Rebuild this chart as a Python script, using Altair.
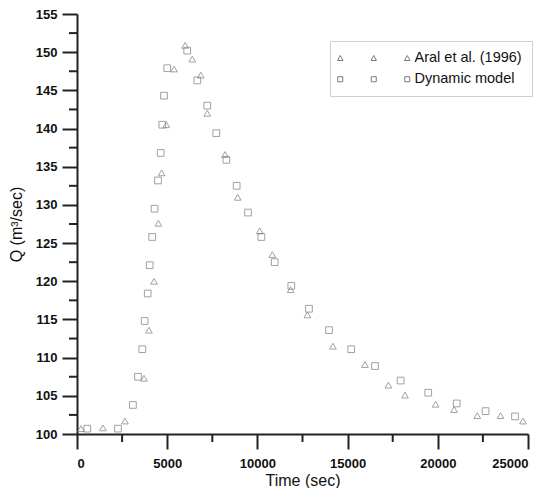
import altair as alt
import pandas as pd

# Aral et al. (1996) - triangles
aral_t = [220, 1440, 2660, 3715, 3990, 4270, 4510, 4690, 4950, 5380, 5990, 6390, 6860,
          7220, 8200, 8910, 10130, 10830, 11840, 12770, 14190, 15960, 17260, 18180,
          19880, 20900, 22190, 23480, 24720]
aral_q = [100.7, 100.8, 101.7, 107.3, 113.6, 120.0, 127.6, 134.2, 140.5, 147.8, 150.9, 149.1, 147.0,
          142.0, 136.6, 131.0, 126.6, 123.5, 118.9, 115.6, 111.5, 109.1, 106.4, 105.1,
          103.9, 103.2, 102.4, 102.4, 101.7]

# Dynamic model - squares
dyn_t = [570, 2270, 3100, 3380, 3620, 3750, 3920, 4030, 4170, 4300, 4490, 4640, 4730, 4820,
         5000, 6110, 6670, 7220, 7720, 8280, 8850, 9480, 10220, 10960, 11880, 12860,
         13970, 15200, 16520, 17940, 19470, 21050, 22650, 24280]
dyn_q = [100.7, 100.7, 103.8, 107.5, 111.1, 114.8, 118.4, 122.1, 125.8, 129.5, 133.2, 136.8, 140.5, 144.3,
         147.9, 150.2, 146.3, 143.0, 139.4, 135.9, 132.5, 129.0, 125.8, 122.5, 119.4, 116.4,
         113.6, 111.1, 108.9, 107.0, 105.4, 104.0, 103.0, 102.3]

series_names = ["Aral et al. (1996)", "Dynamic model"]
x_major = [0, 5000, 10000, 15000, 20000, 25000]
x_minor = [2500, 7500, 12500, 17500, 22500]
y_major = [100, 105, 110, 115, 120, 125, 130, 135, 140, 145, 150, 155]
y_minor = [102.5, 107.5, 112.5, 117.5, 122.5, 127.5, 132.5, 137.5, 142.5, 147.5, 152.5]

df = pd.concat([
    pd.DataFrame({"t": aral_t, "q": aral_q, "series": series_names[0]}),
    pd.DataFrame({"t": dyn_t, "q": dyn_q, "series": series_names[1]}),
])

FONT = "Liberation Sans"
AX = "#222222"
GRAY = "#7a7a7a"
H = 420

def tri(cx):
    return f"M{cx-0.55},0.45L{cx+0.55},0.45L{cx},-0.55Z"

def sq(cx):
    return f"M{cx-0.5},-0.5H{cx+0.5}V0.5H{cx-0.5}Z"

legend_shapes = [
    tri(-13.4) + tri(-6.7) + tri(0),
    sq(-13.4) + sq(-6.7) + sq(0),
]

x_def = alt.X("t:Q", title="Time (sec)",
              scale=alt.Scale(domain=[0, 25000], nice=False, zero=False),
              axis=alt.Axis(values=x_major, format="d", tickSize=15, tickWidth=2, tickColor=AX,
                            labelOverlap=False, orient="bottom", labelPadding=8, titlePadding=2))
y_def = alt.Y("q:Q", title="Q (m³/sec)",
              scale=alt.Scale(domain=[100, 155], nice=False, zero=False),
              axis=alt.Axis(values=y_major, format="d", tickSize=15, tickWidth=2, tickColor=AX,
                            labelOverlap=False, orient="left", labelPadding=5, titlePadding=11))

points = alt.Chart(df).mark_point(filled=False, size=45, strokeWidth=1, color=GRAY).encode(
    x=x_def, y=y_def,
    shape=alt.Shape("series:N", scale=alt.Scale(domain=series_names, range=["triangle-up", "square"]),
                    legend=None),
)

legend_layer = alt.Chart(df).mark_point(filled=False, strokeWidth=1, color=GRAY, opacity=0).encode(
    x=x_def, y=y_def,
    shape=alt.Shape("series:N", scale=alt.Scale(domain=series_names, range=legend_shapes),
                    legend=alt.Legend(title="000000000", titleOrient="left", titleFontSize=11.8,
                                      titleFont=FONT, titleColor="rgba(0,0,0,0)", titlePadding=0,
                                      orient="none", legendX=253, legendY=27,
                                      symbolSize=100, symbolStrokeWidth=1, symbolStrokeColor=GRAY,
                                      symbolFillColor="transparent",
                                      labelFont=FONT, labelFontSize=14.5, labelColor="#111",
                                      labelOffset=0, rowPadding=6,
                                      padding=10, strokeColor="#cfcfcf", fillColor="white")),
)

# minor ticks, positioned through the shared scales
y_minor_ticks = alt.Chart(pd.DataFrame({"q": y_minor})).mark_rule(color=AX, strokeWidth=2).encode(
    y=y_def, x=alt.value(-8), x2=alt.value(0))
x_minor_ticks = alt.Chart(pd.DataFrame({"t": x_minor})).mark_rule(color=AX, strokeWidth=2).encode(
    x=x_def, y=alt.value(H), y2=alt.value(H + 8))

chart = alt.layer(
    y_minor_ticks, x_minor_ticks, points, legend_layer
).resolve_scale(shape="independent").properties(
    width=451, height=H,
    padding={"left": 0, "right": 0, "top": 0, "bottom": 0},
).configure_view(stroke=None).configure_axis(
    domainColor=AX, domainWidth=2,
    labelFont=FONT, labelFontSize=13, labelFontWeight="bold", labelColor="#111",
    titleFont=FONT, titleFontSize=16, titleFontWeight="normal", titleColor="#111",
    grid=False,
)

chart.save("out.html", embed_options={"renderer": "svg", "actions": False})
